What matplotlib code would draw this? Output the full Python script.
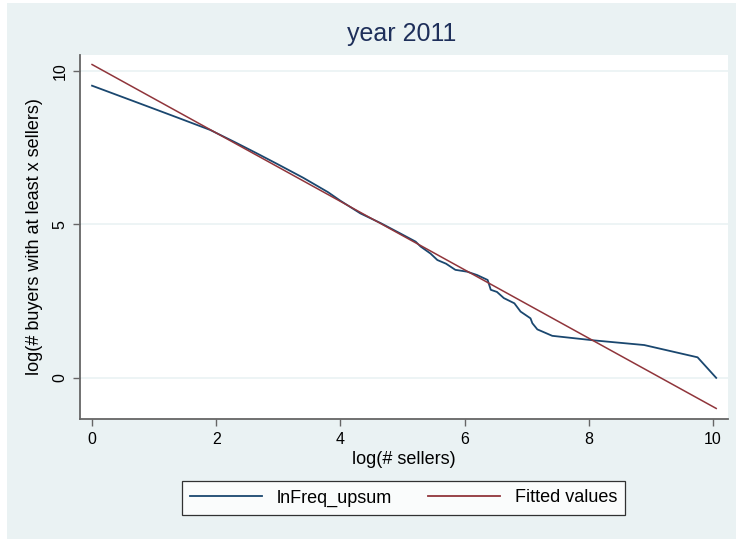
import matplotlib
matplotlib.use("Agg")
import matplotlib.pyplot as plt
from matplotlib.patches import Rectangle
from matplotlib.lines import Line2D

plt.rcParams['font.family'] = ['Liberation Sans', 'DejaVu Sans']

# Cumulative buyer counts (log) by log number of sellers
log_sellers = [0.00, 0.69, 1.10, 1.39, 1.90, 2.30, 2.64, 3.00, 3.40, 3.80, 4.00,
               4.32, 4.65, 4.95, 5.21, 5.29, 5.45, 5.56, 5.70, 5.85, 6.04, 6.20,
               6.37, 6.42, 6.52, 6.63, 6.80, 6.90, 7.06, 7.09, 7.17, 7.41, 8.09,
               8.89, 9.75, 10.05]
ln_freq_upsum = [9.52, 9.00, 8.69, 8.47, 8.08, 7.68, 7.33, 6.95, 6.52, 6.05, 5.77,
                 5.36, 5.04, 4.72, 4.44, 4.28, 4.05, 3.84, 3.72, 3.52, 3.46, 3.35,
                 3.19, 2.87, 2.80, 2.60, 2.43, 2.16, 1.94, 1.78, 1.58, 1.37, 1.22,
                 1.07, 0.67, 0.00]

# Linear fit of the series
fit_intercept = 10.21
fit_slope = -1.115
fit_x = [0.0, 10.05]
fit_y = [fit_intercept + fit_slope * v for v in fit_x]

title_text = "year 2011"
xlabel_text = "log(# sellers)"
ylabel_text = "log(# buyers with at least x sellers)"
legend_labels = ["lnFreq_upsum", "Fitted values"]
x_ticks = [0, 2, 4, 6, 8, 10]
y_ticks = [0, 5, 10]

navy = "#1a476f"
maroon = "#90353b"
region = "#eaf2f3"

W, H = 736, 539
fig = plt.figure(figsize=(W / 100, H / 100), dpi=100)
fig.patch.set_facecolor("white")
fig.add_artist(Rectangle((7 / W, 0), 1 - 7 / W, 1 - 3 / H, transform=fig.transFigure,
                         facecolor=region, edgecolor="none", zorder=0))

ax = fig.add_axes([80 / W, 1 - 419 / H, 648 / W, 364 / H])
ax.set_facecolor("white")
ax.set_xlim(-0.194, 10.24)
ax.set_ylim(-1.34, 10.52)

for yt in y_ticks:
    ax.axhline(yt, color=region, lw=1.2, zorder=1)

ax.plot(log_sellers, ln_freq_upsum, color=navy, lw=1.3, zorder=3,
        solid_joinstyle="round")
ax.plot(fit_x, fit_y, color=maroon, lw=1.1, zorder=4)

for s in ["top", "right"]:
    ax.spines[s].set_visible(False)
for s in ["left", "bottom"]:
    ax.spines[s].set_color("#666666")
    ax.spines[s].set_linewidth(1.3)

ax.set_xticks(x_ticks)
ax.set_yticks(y_ticks)
ax.tick_params(axis="both", direction="out", length=5, width=1.0, color="#666666",
               labelsize=11.5, labelcolor="black", pad=4)
for lab in ax.get_yticklabels():
    lab.set_rotation(90)
    lab.set_va("center")

ax.set_xlabel(xlabel_text, fontsize=13, labelpad=3)
ax.set_ylabel(ylabel_text, fontsize=13, labelpad=7)
fig.text(402 / W, 1 - 34 / H, title_text, ha="center", va="center",
         fontsize=18, color="#1e2f5a")

handles = [Line2D([], [], color=navy, lw=1.3), Line2D([], [], color=maroon, lw=1.3)]
leg = fig.legend(handles, legend_labels, loc="center", bbox_to_anchor=(403.5 / W, 1 - 498 / H),
                 ncol=2, fontsize=13, frameon=True, fancybox=False, handlelength=4.0,
                 handletextpad=0.8, columnspacing=2.0, borderpad=0.45, borderaxespad=0)
leg.get_frame().set_edgecolor("black")
leg.get_frame().set_linewidth(0.9)
leg.get_frame().set_facecolor("white")

fig.savefig("out.png", dpi=100, facecolor=fig.get_facecolor())
